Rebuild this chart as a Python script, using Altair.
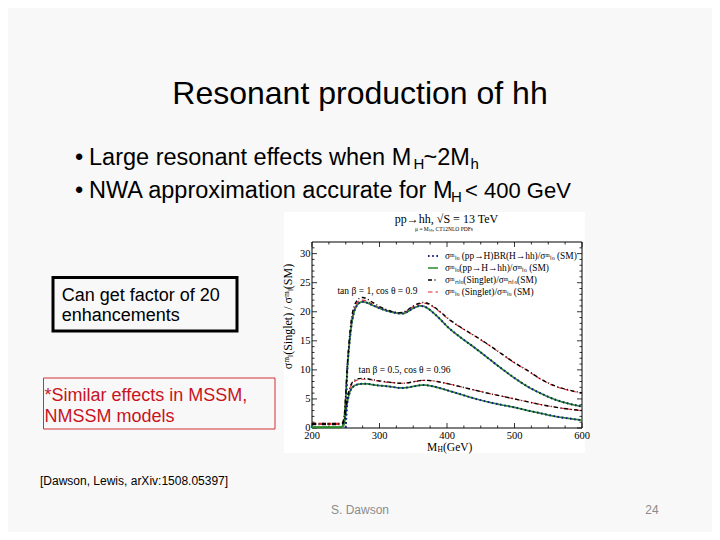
import altair as alt
import pandas as pd

# ---------------- data ----------------
mass = [200, 240, 245, 248, 250, 252, 255, 258, 262, 266, 270, 275, 280, 290, 300,
        310, 320, 330, 335, 340, 350, 360, 365, 370, 380, 390, 400, 420, 440, 460,
        480, 500, 520, 540, 560, 580, 600]

# tan(beta)=1, cos(theta)=0.9
up_red = [0.8, 0.8, 0.9, 2.5, 6.0, 10.0, 14.5, 17.8, 20.2, 21.4, 21.9, 22.0, 21.9, 21.3, 20.7,
          20.3, 20.0, 19.8, 19.85, 20.1, 20.9, 21.4, 21.5, 21.4, 20.8, 19.9, 18.9, 17.3, 15.9, 14.4,
          12.8, 11.2, 9.8, 8.3, 7.2, 6.5, 6.0]
up_black = [0.8, 0.8, 0.9, 2.4, 6.0, 10.2, 15.0, 18.4, 20.8, 21.8, 22.3, 22.45, 22.3, 21.6, 20.9,
            20.4, 20.0, 19.85, 19.9, 20.2, 21.0, 21.5, 21.6, 21.5, 20.9, 20.0, 19.0, 17.35, 15.95, 14.45,
            12.85, 11.25, 9.85, 8.35, 7.25, 6.55, 6.05]
up_green = [0.15, 0.15, 0.3, 1.5, 5.0, 9.5, 14.0, 17.3, 19.8, 21.0, 21.5, 21.7, 21.6, 21.1, 20.6,
            20.2, 19.9, 19.7, 19.7, 19.9, 20.6, 21.0, 20.95, 20.7, 19.8, 18.7, 17.5, 15.6, 13.9, 12.1,
            10.3, 8.6, 7.1, 5.9, 4.9, 4.2, 3.7]
up_blue = [None, None, None, None, 0.0, 9.0, 14.0, 17.3, 19.8, 21.0, 21.5, 21.7, 21.6, 21.1, 20.6,
           20.2, 19.9, 19.7, 19.7, 19.9, 20.6, 21.0, 20.95, 20.7, 19.8, 18.7, 17.5, 15.6, 13.9, 12.1,
           10.3, 8.6, 7.1, 5.9, 4.9, 4.2, 3.7]

# tan(beta)=0.5, cos(theta)=0.96
lo_red = [0.6, 0.6, 0.7, 1.5, 3.2, 4.8, 6.3, 7.3, 7.9, 8.2, 8.35, 8.4, 8.4, 8.25, 8.05,
          7.9, 7.8, 7.7, 7.7, 7.75, 7.95, 8.15, 8.2, 8.2, 8.1, 7.9, 7.65, 7.1, 6.55, 6.0,
          5.5, 5.0, 4.5, 4.0, 3.6, 3.25, 3.0]
lo_black = [0.6, 0.6, 0.7, 1.4, 3.2, 4.9, 6.5, 7.5, 8.1, 8.4, 8.5, 8.55, 8.5, 8.3, 8.1,
            7.95, 7.8, 7.7, 7.7, 7.75, 7.95, 8.15, 8.2, 8.2, 8.1, 7.9, 7.65, 7.1, 6.55, 6.0,
            5.5, 5.0, 4.5, 4.0, 3.6, 3.25, 3.0]
lo_green = [0.1, 0.1, 0.2, 0.8, 2.5, 4.2, 5.8, 6.7, 7.2, 7.45, 7.55, 7.6, 7.6, 7.45, 7.3,
            7.2, 7.05, 6.9, 6.9, 6.95, 7.15, 7.35, 7.4, 7.35, 7.15, 6.85, 6.5, 5.8, 5.1, 4.5,
            4.0, 3.55, 3.0, 2.5, 2.0, 1.65, 1.35]
lo_blue = [None, None, None, None, 0.0, 3.8, 5.7, 6.7, 7.2, 7.45, 7.55, 7.6, 7.6, 7.45, 7.3,
           7.2, 7.05, 6.9, 6.9, 6.95, 7.15, 7.35, 7.4, 7.35, 7.15, 6.85, 6.5, 5.8, 5.1, 4.5,
           4.0, 3.55, 3.0, 2.5, 2.0, 1.65, 1.35]

series_names = [
    "σᵐₗₒ (pp→H)BR(H→hh)/σᵐₗₒ (SM)",
    "σᵐₗₒ(pp→H→hh)/σᵐₗₒ (SM)",
    "σᵐₙₗₒ(Singlet)/σᵐₙₗₒ(SM)",
    "σᵐₗₒ (Singlet)/σᵐₗₒ (SM)",
]
x_ticks = [200, 300, 400, 500, 600]
x_minor = [225, 250, 275, 325, 350, 375, 425, 450, 475, 525, 550, 575]
y_ticks = [0, 5, 10, 15, 20, 25, 30]
y_minor = [v for v in range(1, 32) if v % 5 != 0]

title_text = "Resonant production of hh"
bullet1 = ["Large resonant effects when M", "H", "~2M", "h"]
bullet2 = ["NWA approximation accurate for M", "H", "< 400 GeV"]
box1_lines = ["Can get factor of 20", "enhancements"]
box2_lines = ["*Similar effects in MSSM,", "NMSSM models"]
citation = "[Dawson, Lewis, arXiv:1508.05397]"
footer_name = "S. Dawson"
footer_page = "24"
inset_title = "pp→hh, √S = 13 TeV"
inset_sub = "μ = Mₕₕ, CT12NLO PDFs"
label_up = "tan β = 1, cos θ = 0.9"
label_lo = "tan β = 0.5, cos θ = 0.96"
y_title = "σᵐₗ(Singlet) / σᵐₗ(SM)"

# ---------------- styling ----------------
SANS = "Liberation Sans, Arial, sans-serif"
SERIF = "Liberation Serif, Times New Roman, serif"
BG = "#f8f8f8"
W, H = 270, 186          # data frame of the inset plot
OX, OY = 312, 242        # its top-left corner on the page
colors = ["#1c1c8c", "#2a8a2a", "#000000", "#e2262c"]
dashes = [[1.6, 2.6], [1, 0], [4, 2.5, 1, 2.5], [4.5, 3]]
widths = [2.0, 1.1, 0.9, 2.0]

XS = alt.Scale(domain=[200, 600], nice=False, zero=False)
YS = alt.Scale(domain=[0, 32], nice=False)


def px(X):
    return X - OX


def py(Y):
    return Y - OY


ONE = pd.DataFrame({"k": [0]})


def text_at(s, X, Y, size, font=SANS, color="black", align="left", angle=0, baseline="alphabetic"):
    return alt.Chart(ONE).mark_text(
        text=s, font=font, fontSize=size, color=color, align=align,
        baseline=baseline, angle=angle
    ).encode(x=alt.value(px(X)), y=alt.value(py(Y)))


def box(X1, Y1, X2, Y2, stroke, sw, fill="transparent"):
    return alt.Chart(ONE).mark_rect(fill=fill, stroke=stroke, strokeWidth=sw).encode(
        x=alt.value(px(X1)), x2=alt.value(px(X2)), y=alt.value(py(Y1)), y2=alt.value(py(Y2)))


# ---------------- curves ----------------
rows = []
order = [(3, "a", up_red), (3, "b", lo_red), (1, "a", up_green), (1, "b", lo_green),
         (0, "a", up_blue), (0, "b", lo_blue), (2, "a", up_black), (2, "b", lo_black)]
for idx, scen, vals in order:
    for m, v in zip(mass, vals):
        if v is not None:
            rows.append({"m": m, "v": v, "s": series_names[idx], "g": series_names[idx] + scen})
curves_df = pd.DataFrame(rows)

leg = alt.Legend(title=None, orient="none", legendX=115, legendY=8, symbolType="stroke",
                 symbolSize=100, labelFont=SERIF, labelFontSize=9.4, labelColor="black",
                 labelOffset=6, rowPadding=1, labelLimit=400, padding=0)

curves = alt.Chart(curves_df).mark_line(interpolate="monotone").encode(
    x=alt.X("m:Q", scale=XS, axis=None),
    y=alt.Y("v:Q", scale=YS, axis=None),
    color=alt.Color("s:N", scale=alt.Scale(domain=series_names, range=colors), legend=leg),
    strokeDash=alt.StrokeDash("s:N", scale=alt.Scale(domain=series_names, range=dashes), legend=leg),
    strokeWidth=alt.StrokeWidth("s:N", scale=alt.Scale(domain=series_names, range=widths), legend=leg),
    detail="g:N",
)

# ---------------- frame, inward ticks, tick labels ----------------
frame = alt.Chart(ONE).mark_rect(fill="transparent", stroke="black", strokeWidth=1).encode(
    x=alt.value(0), x2=alt.value(W), y=alt.value(0), y2=alt.value(H))


def yticks(vals, length):
    d = pd.DataFrame({"v": vals})
    left = alt.Chart(d).mark_rule(color="black", strokeWidth=0.8).encode(
        y=alt.Y("v:Q", scale=YS, axis=None), x=alt.value(0), x2=alt.value(length))
    right = alt.Chart(d).mark_rule(color="black", strokeWidth=0.8).encode(
        y=alt.Y("v:Q", scale=YS, axis=None), x=alt.value(W - length), x2=alt.value(W))
    return [left, right]


def xticks(vals, length):
    d = pd.DataFrame({"m": vals})
    bottom = alt.Chart(d).mark_rule(color="black", strokeWidth=0.8).encode(
        x=alt.X("m:Q", scale=XS, axis=None), y=alt.value(H - length), y2=alt.value(H))
    top = alt.Chart(d).mark_rule(color="black", strokeWidth=0.8).encode(
        x=alt.X("m:Q", scale=XS, axis=None), y=alt.value(0), y2=alt.value(length))
    return [bottom, top]


tick_layers = yticks(y_ticks, 5) + yticks(y_minor, 2.5) + xticks(x_ticks, 5) + xticks(x_minor, 2.5)

xlab = alt.Chart(pd.DataFrame({"m": x_ticks, "t": [str(v) for v in x_ticks]})).mark_text(
    font=SERIF, fontSize=10.5, color="black", align="center", baseline="alphabetic").encode(
    x=alt.X("m:Q", scale=XS, axis=None), y=alt.value(H + 10.5), text="t:N")
ylab = alt.Chart(pd.DataFrame({"v": y_ticks, "t": [str(v) for v in y_ticks]})).mark_text(
    font=SERIF, fontSize=10.5, color="black", align="right", baseline="middle").encode(
    y=alt.Y("v:Q", scale=YS, axis=None), x=alt.value(-1.5), text="t:N")


# curve annotations (in data coordinates)
def data_label(s, xm, yv):
    d = pd.DataFrame({"m": [xm], "v": [yv]})
    return alt.Chart(d).mark_text(text=s, font=SERIF, fontSize=9.5, color="black",
                                  baseline="alphabetic", align="center").encode(
        x=alt.X("m:Q", scale=XS, axis=None), y=alt.Y("v:Q", scale=YS, axis=None))


# ---------------- slide ----------------
slide = [
    box(284, 212, 585, 453, "white", 0, fill="white"),
    text_at(title_text, 360, 104, 32, align="center"),
    text_at("•", 75, 164.5, 23.5),
    text_at(bullet1[0], 89, 164.5, 23.5),
    text_at(bullet1[1], 413.5, 168.5, 15),
    text_at(bullet1[2], 423.5, 164.5, 23.5),
    text_at(bullet1[3], 470.5, 168.5, 15),
    text_at("•", 75, 198.3, 23.5),
    text_at(bullet2[0], 89, 198.3, 23.5),
    text_at(bullet2[1], 451, 202.3, 15),
    text_at(bullet2[2], 465, 198.3, 22),
    box(53, 277.5, 237, 331, "black", 3),
    text_at(box1_lines[0], 61.7, 300.7, 18),
    text_at(box1_lines[1], 61.7, 320.7, 18),
    box(43.5, 378, 275, 429, "#d03030", 1),
    text_at(box2_lines[0], 44.5, 401, 18, color="#c8141e"),
    text_at(box2_lines[1], 44.5, 421.7, 18, color="#c8141e"),
    text_at(citation, 40, 485, 12),
    text_at(footer_name, 360, 514, 12, color="#8c8c8c", align="center"),
    text_at(footer_page, 652, 514, 12, color="#8c8c8c", align="center"),
    text_at(inset_title, 446.5, 223, 12, font=SERIF, align="center"),
    text_at(inset_sub, 444, 231, 5.5, font=SERIF, align="center"),
    text_at("M", 427, 450.5, 11.5, font=SERIF),
    text_at("H", 437.5, 452, 7.5, font=SERIF),
    text_at("(GeV)", 443, 450.5, 11.5, font=SERIF),
    text_at(y_title, 287.5, 316.5, 12, font=SERIF, align="center", angle=270, baseline="middle"),
]

chart = alt.layer(
    *slide, frame, *tick_layers, xlab, ylab, curves,
    data_label(label_up, 297, 23.0), data_label(label_lo, 337, 9.5),
).properties(
    width=W, height=H,
    padding={"left": 304, "top": 234, "right": 130, "bottom": 104},
    autosize=alt.AutoSizeParams(type="none"),
).configure(background=BG).configure_view(stroke=None)

chart.save("out.html", embed_options={"renderer": "svg", "actions": False})
